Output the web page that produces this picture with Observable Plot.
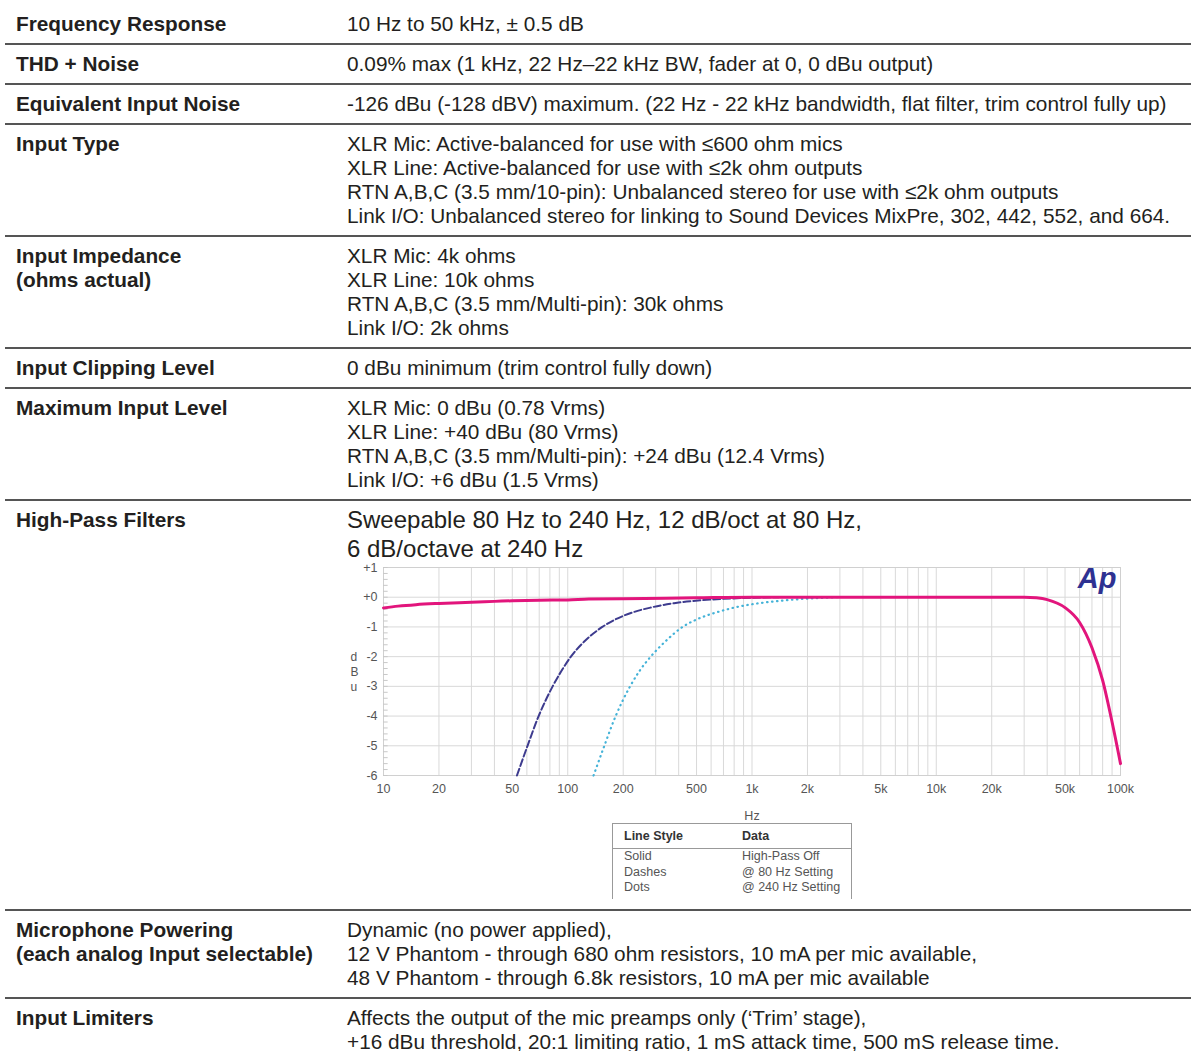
<!DOCTYPE html>
<html>
<head>
<meta charset="utf-8">
<script src="https://cdn.jsdelivr.net/npm/d3@7"></script>
<script src="https://cdn.jsdelivr.net/npm/@observablehq/plot@0.6"></script>
<style>
  html, body { margin: 0; padding: 0; background: #fff; }
  body { width: 1191px; font-family: "Liberation Sans", Arial, Helvetica, sans-serif; color: #231f20; }
  #spec { padding-top: 5px; }
  .row { display: flex; margin-left: 5px; padding: 7px 0; border-bottom: 2px solid #555; }
  .row:last-child { border-bottom: none; }
  .k { width: 342px; box-sizing: border-box; padding-left: 11px; font-weight: bold; font-size: 20.8px; line-height: 24px; flex: none; }
  .v { font-size: 20.8px; line-height: 24px; flex: 1; }
  .hpf { padding-top: 4px; padding-bottom: 10px; }
  .hpf .k { padding-top: 3px; }
  .big { font-size: 24px; line-height: 29px; }
  .chart { margin-top: -4px; margin-left: -7px; display: block; }
  .chart svg { overflow: visible; }
  table.lg { border-collapse: collapse; margin-top: 3px; margin-left: 265px; width: 240px; font-size: 12.5px; color: #555; border-left: 1px solid #999; border-right: 1px solid #999; border-top: 1px solid #999; }
  table.lg th { text-align: left; font-weight: bold; color: #333; height: 22px; padding: 0 0 0 11px; border-bottom: 1px solid #999; }
  table.lg td { padding: 0 0 0 11px; line-height: 15.5px; }
  table.lg td.c1, table.lg th.c1 { width: 107px; }
  table.lg tr.last td { padding-bottom: 3px; }
</style>
</head>
<body>
<div id="spec"></div>
<script>
// ---- table content ----
const specLabels = [
  ["Frequency Response"],
  ["THD + Noise"],
  ["Equivalent Input Noise"],
  ["Input Type"],
  ["Input Impedance", "(ohms actual)"],
  ["Input Clipping Level"],
  ["Maximum Input Level"],
  ["High-Pass Filters"],
  ["Microphone Powering", "(each analog Input selectable)"],
  ["Input Limiters"]
];
const specValues = [
  ["10 Hz to 50 kHz, ± 0.5 dB"],
  ["0.09% max (1 kHz, 22 Hz–22 kHz BW, fader at 0, 0 dBu output)"],
  ["-126 dBu (-128 dBV) maximum. (22 Hz - 22 kHz bandwidth, flat filter, trim control fully up)"],
  ["XLR Mic: Active-balanced for use with ≤600 ohm mics",
   "XLR Line: Active-balanced for use with ≤2k ohm outputs",
   "RTN A,B,C (3.5 mm/10-pin): Unbalanced stereo for use with ≤2k ohm outputs",
   "Link I/O: Unbalanced stereo for linking to Sound Devices MixPre, 302, 442, 552, and 664."],
  ["XLR Mic: 4k ohms", "XLR Line: 10k ohms", "RTN A,B,C (3.5 mm/Multi-pin): 30k ohms", "Link I/O: 2k ohms"],
  ["0 dBu minimum (trim control fully down)"],
  ["XLR Mic: 0 dBu (0.78 Vrms)", "XLR Line: +40 dBu (80 Vrms)", "RTN A,B,C (3.5 mm/Multi-pin): +24 dBu (12.4 Vrms)", "Link I/O: +6 dBu (1.5 Vrms)"],
  ["Sweepable 80 Hz to 240 Hz, 12 dB/oct at 80 Hz,", "6 dB/octave at 240 Hz"],
  ["Dynamic (no power applied),",
   "12 V Phantom - through 680 ohm resistors, 10 mA per mic available,",
   "48 V Phantom - through 6.8k resistors, 10 mA per mic available"],
  ["Affects the output of the mic preamps only (‘Trim’ stage),",
   "+16 dBu threshold, 20:1 limiting ratio, 1 mS attack time, 500 mS release time."]
];
const chartRowIndex = 7;

// ---- chart data ----
const xTicks = [10, 20, 50, 100, 200, 500, 1000, 2000, 5000, 10000, 20000, 50000, 100000];
const xTickLabels = ["10", "20", "50", "100", "200", "500", "1k", "2k", "5k", "10k", "20k", "50k", "100k"];
const yTicks = [1, 0, -1, -2, -3, -4, -5, -6];
const yTickLabels = ["+1", "+0", "-1", "-2", "-3", "-4", "-5", "-6"];
const xAxisTitle = "Hz";
const yAxisTitle = "d\nB\nu";
const logoText = "Ap";

// Solid: High-Pass Off
const solidFreq = [10, 12, 15, 20, 30, 40, 50, 70, 100, 130, 200, 500, 1000, 2000, 5000, 10000, 20000, 30000, 35000, 40000, 50000, 60000, 70000, 80000, 90000, 100000];
const solidDb   = [-0.36, -0.3, -0.25, -0.21, -0.17, -0.14, -0.12, -0.1, -0.09, -0.06, -0.05, -0.02, 0, 0, 0, 0, 0, 0, -0.02, -0.08, -0.35, -0.85, -1.7, -2.8, -4.2, -5.6];
// Dashes: @ 80 Hz setting
const dashFreq = [53, 60.5, 69.5, 75.5, 82.8, 92, 104, 122.5, 154, 181, 228, 281, 378, 535, 790, 1400];
const dashDb   = [-6, -5, -4, -3.5, -3, -2.5, -2, -1.5, -1, -0.75, -0.5, -0.35, -0.2, -0.1, -0.04, 0];
// Dots: @ 240 Hz setting
const dotFreq = [138, 158, 182, 198, 218, 244, 282, 337, 420, 500, 650, 800, 1100, 1550, 2100, 2900];
const dotDb   = [-6, -5, -4, -3.5, -3, -2.5, -2, -1.5, -1, -0.75, -0.5, -0.35, -0.2, -0.1, -0.04, 0];

// ---- legend ----
const legendHeader = ["Line Style", "Data"];
const legendStyles = ["Solid", "Dashes", "Dots"];
const legendData = ["High-Pass Off", "@ 80 Hz Setting", "@ 240 Hz Setting"];

// ---- build ----
const spec = document.getElementById("spec");
specLabels.forEach((lab, i) => {
  const row = document.createElement("div");
  row.className = "row" + (i === chartRowIndex ? " hpf" : "");
  const k = document.createElement("div");
  k.className = "k";
  k.innerHTML = lab.map(s => `<div>${s}</div>`).join("");
  const v = document.createElement("div");
  v.className = "v";
  v.innerHTML = specValues[i].map(s => `<div class="${i === chartRowIndex ? "big" : ""}">${s}</div>`).join("");
  if (i === chartRowIndex) {
    const xLab = new Map(xTicks.map((d, j) => [d, xTickLabels[j]]));
    const yLab = new Map(yTicks.map((d, j) => [d, yTickLabels[j]]));
    const gridFreqs = d3.scaleLog().domain([10, 100000]).ticks();
    const minorDb = d3.range(-6, 1.0001, 0.2).map(d => Math.round(d * 10) / 10);
    const solid = solidFreq.map((f, j) => ({f, db: solidDb[j]}));
    const dash = dashFreq.map((f, j) => ({f, db: dashDb[j]}));
    const dot = dotFreq.map((f, j) => ({f, db: dotDb[j]}));
    const chart = Plot.plot({
      width: 795,
      height: 261,
      marginLeft: 43,
      marginRight: 15,
      marginTop: 8,
      marginBottom: 45,
      style: {fontFamily: "'Liberation Sans', Arial, sans-serif", fontSize: "12.5px", color: "#555", background: "transparent", overflow: "visible"},
      x: {type: "log", domain: [10, 100000]},
      y: {domain: [-6, 1]},
      marks: [
        Plot.gridX(gridFreqs, {stroke: "#d9d9d9", strokeOpacity: 1}),
        Plot.gridY(yTicks, {stroke: "#d9d9d9", strokeOpacity: 1}),
        Plot.frame({stroke: "#d0d0d0"}),
        Plot.ruleY(minorDb, {y: d => d, x1: 10, x2: 10.6, stroke: "#c8c8c8"}),
        Plot.axisX(xTicks, {text: d => xLab.get(d), tickSize: 0, tickPadding: 9, label: xAxisTitle, labelAnchor: "center", labelArrow: "none", labelOffset: 44, fill: "#555"}),
        Plot.axisY(yTicks, {text: d => yLab.get(d), tickSize: 0, tickPadding: 6, label: null, fill: "#555"}),
        Plot.text([yAxisTitle], {text: d => d, frameAnchor: "left", dx: -33, lineHeight: 1.25, fontSize: 12, fill: "#555"}),
        Plot.text([logoText], {text: d => d, frameAnchor: "top-right", dx: -4, dy: 0, textAnchor: "end", lineAnchor: "top", fontSize: 29, fontWeight: "bold", fontStyle: "italic", fill: "#2e3192"}),
        Plot.line(dot, {x: "f", y: "db", stroke: "#45b3d8", strokeWidth: 2.2, strokeDasharray: "0.5,4.5", strokeLinecap: "round", curve: "monotone-x"}),
        Plot.line(dash, {x: "f", y: "db", stroke: "#3d3b8e", strokeWidth: 2, strokeDasharray: "7,3", curve: "monotone-x"}),
        Plot.line(solid, {x: "f", y: "db", stroke: "#e2157c", strokeWidth: 3, curve: "monotone-x"})
      ]
    });
    const wrap = document.createElement("div");
    wrap.className = "chart";
    wrap.appendChild(chart);
    v.appendChild(wrap);
    const tbl = document.createElement("table");
    tbl.className = "lg";
    let html = `<tr><th class="c1">${legendHeader[0]}</th><th>${legendHeader[1]}</th></tr>`;
    legendStyles.forEach((s, j) => {
      html += `<tr class="${j === legendStyles.length - 1 ? "last" : ""}"><td class="c1">${s}</td><td>${legendData[j]}</td></tr>`;
    });
    tbl.innerHTML = html;
    v.appendChild(tbl);
  }
  row.appendChild(k);
  row.appendChild(v);
  spec.appendChild(row);
});
</script>
</body>
</html>
